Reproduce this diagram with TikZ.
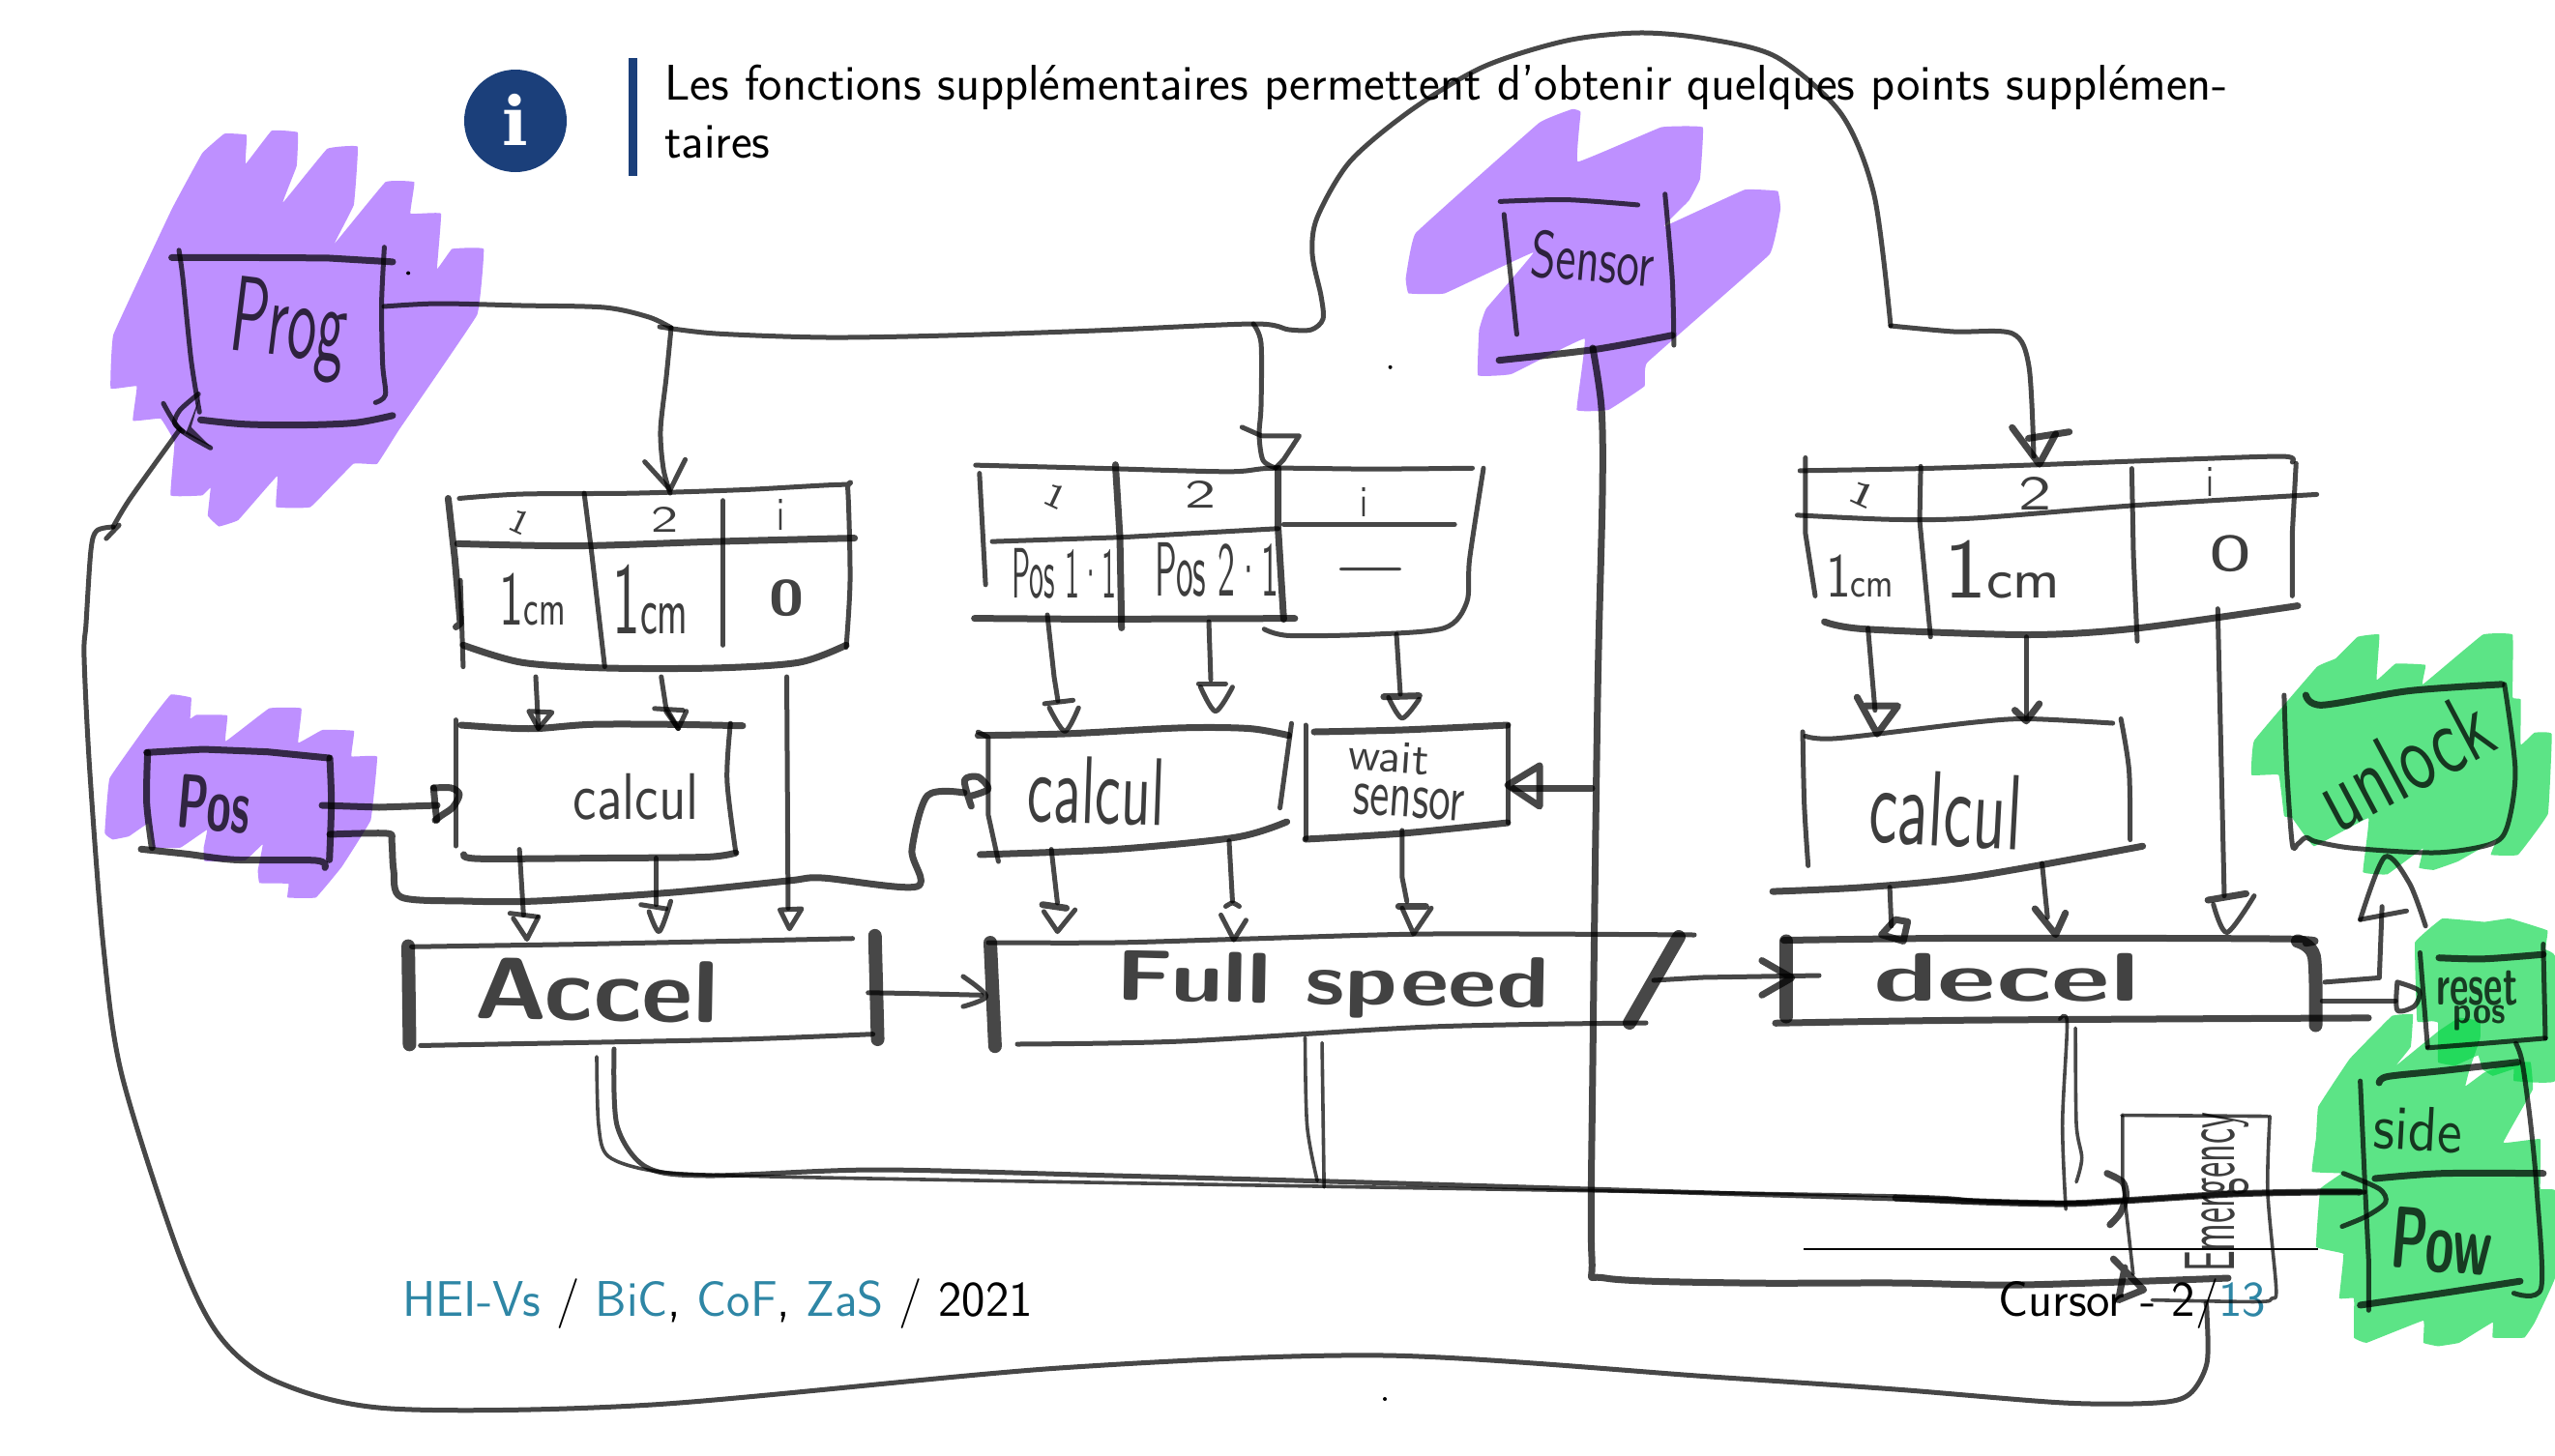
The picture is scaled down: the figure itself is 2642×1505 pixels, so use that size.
\documentclass[tikz,border=0pt]{standalone}
\usepackage{fontspec}
\newfontfamily\iconf{DejaVu Serif}
\definecolor{slideblue}{RGB}{27,63,122}
\definecolor{linkblue}{RGB}{46,134,165}
\definecolor{markpurple}{RGB}{190,144,255}
\definecolor{markgreen}{RGB}{5,214,70}
\tikzset{
  inkA/.style={draw=black,draw opacity=.72,line cap=round,line join=round,line width=5pt},
  inkB/.style={inkA,line width=3.6pt},
  inkC/.style={inkA,line width=7pt},
  inkD/.style={inkA,line width=14pt},
  hand/.style={inner sep=0pt,text=black,text opacity=.76,font=\sffamily},
  handb/.style={inner sep=0pt,text=black,text opacity=.74,font=\sffamily\bfseries},
  slidetxt/.style={inner sep=0pt,anchor=base west,font=\sffamily\fontsize{51.8}{60}\selectfont},
  foottxt/.style={inner sep=0pt,anchor=base west,font=\sffamily\fontsize{51.8}{60}\selectfont},
  zA/.style={shift={(80,20)},x=.574pt,y=-.4464pt},
  zB/.style={shift={(960,20)},x=.574pt,y=-.4464pt},
  zC/.style={shift={(1760,440)},x=.5625pt,y=-.4464pt},
  zD/.style={shift={(1960,950)},x=.43495pt,y=-.35395pt},
  zE/.style={shift={(380,700)},x=.70153pt,y=-.35714pt},
  zF/.style={shift={(60,680)},x=.33333pt,y=-.33333pt},
}
\newcommand{\sk}[2]{\draw[#1] plot[smooth,tension=.5] coordinates {#2};}
\newcommand{\pl}[2]{\draw[#1] plot coordinates {#2};}
\newcommand{\hw}[3]{\resizebox*{#1pt}{#2pt}{#3}}
\newcommand{\onecm}{1{\fontsize{6.5}{6.5}\selectfont cm}}
\begin{document}
\begin{tikzpicture}[x=1pt,y=-1pt]
\useasboundingbox (0,0) rectangle (2642,1505);
\fill[white] (0,0) rectangle (2642,1505);
% slide
\fill[slideblue] (533,125) circle (53);
\node[inner sep=0,text=white] (iconI) at (533,124) {\iconf\bfseries\fontsize{70}{70}\selectfont i};
\fill[slideblue] (650,60) rectangle (659,182);
\node[slidetxt] (note1) at (687,103) {Les fonctions supplémentaires permettent d’obtenir quelques points supplémen-};
\node[slidetxt] (note2) at (687,163) {taires};
\node[foottxt] (footL) at (416,1361) {\textcolor{linkblue}{HEI-Vs} / \textcolor{linkblue}{BiC}, \textcolor{linkblue}{CoF}, \textcolor{linkblue}{ZaS} / 2021};
\node[foottxt] (footR) at (2066,1361) {Cursor - 2/\textcolor{linkblue}{13}};
\draw[black,line width=2pt] (1865,1292) -- (2397,1292);
% marker blobs
\begin{scope}[zA]
\fill[markpurple] plot[smooth cycle,tension=.12] coordinates {(265,265)(305,268)(303,335)(350,258)(397,262)(395,340)(370,425)(450,300)(505,295)(498,430)(463,520)(555,377)(607,377)(600,450)(655,450)(648,578)(675,532)(732,532)(720,685)(580,950)(540,1030)(497,1030)(420,1130)(358,1130)(360,1058)(290,1160)(255,1175)(235,1150)(240,1085)(225,1103)(168,1103)(175,980)(150,925)(100,930)(107,850)(60,855)(65,730)(170,440)(225,310)};
\fill[black] (596,588) circle (2pt);
\end{scope}
\begin{scope}[zF]
\fill[markpurple] plot[smooth cycle,tension=.12] coordinates {(350,115)(413,125)(410,190)(430,178)(525,180)(520,260)(655,158)(755,158)(745,265)(820,225)(918,228)(910,307)(990,308)(970,505)(880,650)(800,745)(712,745)(715,702)(625,700)(620,660)(635,580)(580,630)(455,632)(452,590)(462,535)(380,590)(295,590)(280,515)(220,555)(170,565)(145,545)(160,375)(290,190)};
\end{scope}
\begin{scope}[zB]
\fill[markpurple] plot[smooth cycle,tension=.12] coordinates {(1160,208)(1175,215)(1170,330)(1320,250)(1395,250)(1390,370)(1370,420)(1325,480)(1470,395)(1530,398)(1535,440)(1515,545)(1295,795)(1290,850)(1225,905)(1168,905)(1182,740)(1050,822)(990,825)(992,720)(1005,670)(1090,540)(930,635)(865,635)(860,600)(878,495)(1100,240)};
\fill[black] (832,806) circle (2pt);
\end{scope}
\fill[black] (1432,1447) circle (2pt);
\begin{scope}[zC]
\fill[markgreen,fill opacity=.65] plot[smooth cycle,tension=.12] coordinates {(1205,490)(1245,485)(1240,590)(1275,552)(1330,555)(1325,600)(1435,485)(1490,485)(1490,630)(1505,635)(1505,740)(1530,712)(1562,715)(1555,900)(1500,995)(1450,995)(1460,960)(1390,1010)(1345,1030)(1318,1025)(1325,980)(1260,1040)(1215,1035)(1225,910)(1125,975)(1085,910)(1070,905)(1060,810)(1010,810)(1015,730)(1130,560)(1165,540)};
\end{scope}
\begin{scope}[zD]
\fill[markgreen,fill opacity=.65] plot[smooth cycle,tension=.1] coordinates {(1240,300)(1235,70)(1300,0)(1400,10)(1460,0)(1550,35)(1545,90)(1568,110)(1568,475)(1470,475)(1470,440)(1420,460)(1395,440)(1385,400)(1330,430)(1290,420)(1290,305)(1275,300)};
\fill[markgreen,fill opacity=.65] plot[smooth cycle,tension=.1] coordinates {(1005,550)(1080,410)(1180,285)(1230,280)(1225,375)(1190,430)(1290,330)(1340,290)(1390,300)(1390,350)(1365,440)(1355,490)(1400,450)(1470,420)(1510,420)(1515,500)(1445,655)(1533,645)(1533,790)(1568,795)(1568,1050)(1520,1180)(1495,1225)(1420,1225)(1420,1180)(1340,1240)(1290,1250)(1255,1240)(1255,1175)(1120,1240)(1090,1225)(1090,1110)(1055,1110)(1065,980)(1000,960)(1010,790)(1060,745)(990,740)(1000,640)};
\end{scope}
% named connector ends
\coordinate (progOut) at (397,317);
\coordinate (busJ) at (694,339);
\coordinate (tOneIn) at (693,510);
\coordinate (tTwoIn) at (1319,484);
\coordinate (tThreeIn) at (2103,472);
\coordinate (sensorOut) at (1647,360);
\coordinate (waitIn) at (1565,815);
\coordinate (waitTap) at (1646,815);
\coordinate (emOut) at (2281,1348);
\coordinate (progIn) at (186,444);
\coordinate (posOutA) at (333,833);
\coordinate (calcOneIn) at (452,833);
\coordinate (posOutB) at (341,863);
\coordinate (calcTwoIn) at (997,820);
\coordinate (accelOutA) at (617,1093);
\coordinate (accelOutB) at (635,1085);
\coordinate (powIn) at (2445,1233);
\coordinate (emIn) at (2195,1242);
\coordinate (emInB) at (2304,1322);
\coordinate (fullOut) at (1710,1014);
\coordinate (decelIn) at (1881,1009);
% long connectors
\sk{inkA}{(progOut)(453,314)(539,316)(625,318)(671,328)(busJ)}
\sk{inkA}{(682,338)(740,345)(855,349)(980,347)(1132,342)(1296,335)(1333,341)(1356,341)(1368,330)(1366,306)(1357,263)(1362,225)(1396,167)(1459,114)(1534,69)(1620,42)(1695,34)(1764,40)(1837,59)(1904,118)(1938,202)(1955,337)}
\sk{inkA}{(1955,337)(2020,343)(2081,345)(2098,379)(tThreeIn)}
\sk{inkA}{(busJ)(689,390)(683,445)(686,485)(tOneIn)}
\sk{inkA}{(1296,335)(1304,355)(1304,420)(1302,450)(1306,476)(tTwoIn)}
\sk{inkC}{(sensorOut)(1656,422)(1657,511)(1652,720)(1647,1100)(1646,1300)(1660,1322)(1800,1327)(1960,1327)(2090,1329)(emInB)}
\pl{inkC}{(waitTap)(waitIn)}
\sk{inkA}{(emOut)(2282,1357)(2282,1410)(2264,1442)(2230,1451)(2134,1451)(1960,1437)(1769,1424)(1432,1402)(1095,1415)(674,1453)(404,1457)(286,1429)(227,1382)(185,1297)(126,1112)(107,980)(93,800)(87,680)(89,645)(94,569)(100,549)(117,545)}
\sk{inkA}{(117,545)(135,515)(progIn)}
\sk{inkC}{(posOutB)(400,862)(405,870)(407,900)(415,928)(480,932)(555,932)(696,923)(815,911)(850,908)(948,917)(943,879)(959,823)(calcTwoIn)}
\pl{inkC}{(posOutA)(392,835)(calcOneIn)}
\sk{inkB}{(accelOutA)(619,1164)(629,1196)(675,1211)(759,1216)(1011,1221)(1480,1229)(1960,1237)(2047,1242)(2134,1244)(emIn)}
\sk{inkA}{(accelOutB)(638,1164)(668,1207)(731,1216)(906,1210)(1152,1216)(1480,1225)(1960,1240)(2047,1243)(2134,1245)(emIn)(2308,1235)(2395,1233)(powIn)}
\sk{inkC}{(1960,1239)(2047,1243)(2134,1245)(2195,1242)(2308,1235)(2395,1233)(2440,1233)}
\pl{inkA}{(fullOut)(1760,1011)(decelIn)}
% zoom A : Prog, table 1
\begin{scope}[zA]
\pl{inkC}{(170,552)(300,552)(450,553)(568,562)}
\sk{inkA}{(183,535)(190,600)(205,790)(220,910)}
\sk{inkA}{(553,528)(548,660)(550,800)(555,870)(537,888)}
\sk{inkC}{(222,928)(300,938)(400,940)(500,935)(568,918)}
\node[hand,rotate=-7] (tProg) at (380,720) {\hw{120}{100}{Prog}};
\sk{inkA}{(52,1203)(75,1172)}
\sk{inkA}{(155,890)(185,950)(240,993)}
\sk{inkA}{(218,868)(185,905)(175,935)(190,955)}
\fill[black,opacity=.7] (222,870)--(205,945)--(240,990)--(195,960)--cycle;
\pl{inkA}{(1022,1025)(1068,1090)(1095,1020)}
\sk{inkA}{(688,1110)(800,1100)(1000,1098)(1200,1090)(1380,1078)(1388,1090)(1392,1300)(1385,1455)}
\pl{inkC}{(668,1110)(680,1250)(690,1400)(682,1408)}
\pl{inkA}{(690,1300)(695,1500)}
\sk{inkC}{(685,1215)(900,1220)(1150,1210)(1400,1202)}
\pl{inkA}{(913,1098)(925,1220)(950,1500)}
\pl{inkA}{(1163,1115)(1163,1450)}
\sk{inkC}{(695,1450)(800,1490)(950,1503)(1150,1503)(1300,1490)(1385,1450)}
\node[hand,rotate=-25] (oneAh) at (797,1165) {\hw{20}{24}{1}};
\node[hand] (oneBh) at (1058,1160) {\hw{28}{26}{2}};
\node[hand] (oneCh) at (1268,1147) {\hw{8}{32}{i}};
\node[hand] (oneA) at (820,1345) {\hw{68}{54}{\onecm}};
\node[hand] (oneB) at (1032,1345) {\hw{78}{72}{\onecm}};
\node[handb] (oneC) at (1278,1340) {\hw{36}{38}{0}};
\end{scope}
% zoom F : Pos
\begin{scope}[zF]
\pl{inkC}{(275,295)(450,285)(650,293)(840,312)}
\sk{inkC}{(278,295)(275,450)(292,590)}
\sk{inkC}{(843,312)(848,450)(842,628)}
\sk{inkC}{(258,595)(400,610)(550,628)(800,630)(828,652)}
\node[handb,rotate=-5] (tPos) at (485,455) {\hw{75}{56}{Pos}};
\pl{inkC}{(1165,405)(1170,460)(1175,505)}
\sk{inkC}{(1165,405)(1220,405)(1245,425)(1225,465)(1190,490)(1170,505)}
\end{scope}
% zoom B : Sensor, table 2
\begin{scope}[zB]
\sk{inkA}{(1030,422)(1150,418)(1278,430)}
\pl{inkA}{(1037,452)(1060,730)}
\sk{inkA}{(1327,405)(1340,600)(1343,755)}
\sk{inkC}{(1028,790)(1200,765)(1340,732)}
\node[hand,rotate=-5] (tSensor) at (1197,555) {\hw{128}{50}{Sensor}};
\pl{inkA}{(565,945)(600,965)(668,965)(640,1020)(625,1040)}
\sk{inkA}{(85,1033)(300,1040)(540,1048)(620,1040)(800,1042)(980,1040)}
\pl{inkA}{(92,1052)(103,1310)}
\pl{inkC}{(337,1032)(345,1200)(348,1410)}
\pl{inkC}{(630,1040)(630,1180)(640,1390)}
\sk{inkA}{(1000,1040)(975,1250)(970,1350)(930,1410)(800,1425)(650,1428)(605,1413)}
\pl{inkA}{(115,1210)(350,1200)(630,1180)}
\pl{inkA}{(640,1170)(948,1170)}
\pl{inkC}{(83,1388)(300,1390)(660,1388)}
\node[hand,rotate=-25] (twoAh) at (230,1105) {\hw{22}{24}{1}};
\node[hand] (twoBh) at (490,1100) {\hw{32}{28}{2}};
\node[hand] (twoCh) at (785,1120) {\hw{8}{30}{i}};
\node[hand] (twoA) at (245,1285) {\hw{108}{52}{Pos 1·1}};
\node[hand] (twoB) at (520,1275) {\hw{128}{56}{Pos 2·1}};
\node[handb] (twoC) at (797,1288) {\hw{64}{14}{—}};
\end{scope}
% global : table 2 outputs, wait sensor, Full speed
\coordinate (tTwoA) at (1083,636);
\coordinate (tTwoB) at (1250,643);
\coordinate (tTwoC) at (1444,656);
\pl{inkA}{(tTwoA)(1090,700)(1094,725)}
\pl{inkA}{(tTwoB)(1252,703)}
\pl{inkA}{(tTwoC)(1448,718)}
\pl{inkA}{(1350,750)(1350,868)}
\sk{inkC}{(1359,757)(1450,755)(1559,750)}
\pl{inkA}{(1559,750)(1559,851)}
\sk{inkC}{(1350,868)(1450,862)(1559,851)}
\node[hand,rotate=-4] (tWait) at (1436,783) {\hw{84}{32}{wait}};
\node[hand,rotate=-4] (tSensorB) at (1457,830) {\hw{115}{32}{sensor}};
\pl{inkC}{(1592,792)(1559,812)(1592,834)(1592,792)}
\sk{inkA}{(1022,975)(1152,975)(1292,971)(1480,966)(1752,967)}
\pl{inkD}{(1736,969)(1685,1058)}
\sk{inkA}{(1052,1080)(1222,1077)(1480,1062)(1702,1058)}
\node[handb,rotate=-1] (tFull) at (1378,1020) {\hw{448}{66}{Full speed}};
% zoom E : calcul 1, Accel, calcul 2
\begin{scope}[zE]
\pl{inkA}{(248,0)(252,150)}
\pl{inkA}{(238,100)(252,150)(272,103)(238,100)}
\pl{inkA}{(433,0)(440,90)(458,150)}
\pl{inkA}{(423,92)(465,97)}
\pl{inkA}{(440,100)(458,150)(470,100)}
\pl{inkA}{(618,0)(620,670)}
\pl{inkA}{(608,675)(622,730)(640,672)(608,675)}
\pl{inkA}{(130,125)(130,490)}
\sk{inkC}{(138,140)(200,148)(250,150)(330,138)(450,138)(553,142)}
\sk{inkA}{(535,135)(530,300)(543,510)}
\sk{inkC}{(142,515)(165,527)(350,525)(500,522)(543,510)}
\node[hand] (tCalcA) at (396,348) {\hw{130}{48}{calcul}};
\pl{inkA}{(224,500)(230,690)}
\pl{inkA}{(210,685)(250,695)}
\pl{inkA}{(215,700)(235,760)(252,695)}
\pl{inkA}{(425,525)(425,660)}
\pl{inkA}{(403,660)(440,672)}
\sk{inkA}{(415,680)(430,738)(447,650)}
\sk{inkC}{(890,375)(880,300)(900,290)(915,325)(890,345)}
\pl{inkA}{(65,782)(300,775)(550,765)(715,758)}
\pl{inkD}{(60,780)(62,1065)}
\pl{inkD}{(748,750)(752,1050)}
\sk{inkA}{(78,1068)(300,1060)(550,1050)(745,1035)}
\node[handb,rotate=-1] (tAccel) at (338,908) {\hw{252}{64}{Accel}};
\coordinate (accelOut) at (738,915);
\coordinate (fullIn) at (905,922);
\pl{inkA}{(accelOut)(800,917)(fullIn)}
\sk{inkA}{(878,868)(912,925)(878,955)}
\pl{inkD}{(918,770)(925,1070)}
\sk{inkB}{(1382,1045)(1385,1300)(1400,1460)}
\sk{inkB}{(1407,1060)(1410,1478)}
\pl{inkA}{(900,160)(915,175)(915,400)(930,535)}
\sk{inkC}{(900,170)(1030,165)(1200,148)(1300,150)(1358,170)}
\pl{inkA}{(1362,135)(1345,380)}
\sk{inkC}{(903,515)(1100,500)(1280,465)(1355,420)}
\node[hand,rotate=-2] (tCalcB) at (1075,330) {\hw{142}{70}{calcul}};
\pl{inkA}{(1008,500)(1017,655)}
\pl{inkC}{(995,660)(1030,670)}
\pl{inkA}{(997,680)(1017,738)(1043,675)}
\pl{inkA}{(1270,475)(1275,650)}
\sk{inkA}{(1265,665)(1275,655)(1285,665)}
\pl{inkA}{(1258,690)(1277,762)(1295,705)}
\pl{inkA}{(1525,445)(1525,580)(1532,650)}
\pl{inkC}{(1520,665)(1560,665)}
\pl{inkA}{(1525,670)(1542,745)(1568,670)}
\pl{inkA}{(998,78)(1040,68)}
\sk{inkA}{(1005,90)(1028,158)(1048,90)}
\pl{inkA}{(1225,20)(1265,20)}
\sk{inkA}{(1228,30)(1250,100)(1275,30)}
\pl{inkC}{(1498,58)(1550,55)}
\sk{inkA}{(1505,60)(1525,120)(1550,65)}
\end{scope}
% zoom C : table 3, calcul 3, decel, unlock
\begin{scope}[zC]
\pl{inkC}{(570,5)(620,90)(650,20)}
\pl{inkC}{(600,30)(675,15)}
\sk{inkA}{(180,105)(400,100)(600,92)(900,78)(1070,72)(1085,85)}
\pl{inkA}{(190,75)(190,250)(208,395)}
\pl{inkA}{(402,95)(400,220)(420,490)}
\pl{inkA}{(790,100)(793,300)(800,500)}
\pl{inkA}{(1092,88)(1085,250)(1085,395)}
\sk{inkA}{(175,208)(350,218)(500,215)(800,185)(1130,160)}
\sk{inkC}{(225,455)(300,472)(600,485)(800,470)(1095,418)}
\node[hand,rotate=-25] (thrAh) at (295,160) {\hw{28}{24}{1}};
\node[hand] (thrBh) at (612,157) {\hw{34}{34}{2}};
\node[hand] (thrCh) at (935,130) {\hw{8}{30}{i}};
\node[hand] (thrA) at (290,350) {\hw{70}{44}{\onecm}};
\node[hand] (thrB) at (552,335) {\hw{120}{60}{\onecm}};
\node[hand] (thrC) at (972,298) {\hw{44}{38}{0}};
\pl{inkA}{(305,470)(318,660)}
\pl{inkC}{(285,630)(322,715)(360,650)(300,650)}
\pl{inkA}{(596,490)(596,680)}
\pl{inkC}{(575,660)(596,685)(620,645)}
\pl{inkA}{(948,425)(960,1090)}
\pl{inkC}{(930,1100)(1000,1085)}
\sk{inkA}{(940,1110)(965,1175)(1015,1090)}
\sk{inkA}{(185,710)(188,880)(195,1020)}
\sk{inkA}{(190,720)(250,725)(500,688)(600,680)(755,690)}
\sk{inkA}{(770,680)(785,800)(787,960)}
\sk{inkC}{(130,1080)(300,1070)(500,1045)(810,975)}
\node[hand,rotate=-3] (tCalcC) at (448,890) {\hw{158}{78}{calcul}};
\pl{inkA}{(345,1070)(348,1160)}
\pl{inkC}{(330,1180)(355,1145)(378,1150)(370,1195)(330,1180)}
\pl{inkA}{(625,1015)(635,1140)}
\pl{inkC}{(612,1120)(650,1180)(668,1130)}
\sk{inkC}{(150,1193)(500,1188)(1080,1190)(1110,1200)}
\pl{inkD}{(155,1195)(155,1370)}
\sk{inkD}{(1095,1195)(1125,1230)(1128,1390)}
\sk{inkC}{(135,1385)(500,1378)(1225,1373)}
\node[handb] (tDecel) at (560,1280) {\hw{275}{50}{decel}};
\pl{inkC}{(110,1240)(165,1280)(110,1320)}
\coordinate (decelOutA) at (1145,1290);
\coordinate (unlockIn) at (1255,1000);
\coordinate (decelOutB) at (1140,1333);
\coordinate (resetIn) at (1275,1333);
\pl{inkA}{(decelOutA)(1245,1280)(1250,1115)}
\sk{inkA}{(1210,1145)(unlockIn)(1300,1060)(1330,1160)}
\pl{inkA}{(1210,1145)(1295,1125)}
\pl{inkA}{(decelOutB)(resetIn)}
\sk{inkA}{(1278,1290)(1278,1355)(1310,1345)(1318,1310)(1278,1290)}
\sk{inkA}{(1070,625)(1075,800)(1085,970)(1095,970)(1110,955)(1130,965)(1200,980)(1350,990)(1450,970)(1480,930)(1495,800)(1475,600)}
\sk{inkC}{(1110,625)(1140,648)(1300,615)(1470,600)}
\node[hand,rotate=28] (tUnlock) at (1290,780) {\hw{190}{70}{unlock}};
\end{scope}
% zoom D : decel outs, Emergency, reset pos, side/Pow
\begin{scope}[zD]
\sk{inkB}{(390,295)(408,305)(397,600)(405,850)}
\sk{inkB}{(428,320)(430,600)(443,700)(430,770)}
\pl{inkB}{(540,578)(540,760)(565,1040)}
\pl{inkB}{(538,575)(885,578)}
\sk{inkB}{(890,578)(885,800)(905,1080)(895,1110)(860,1120)(610,1115)}
\node[hand,rotate=90] (tEmergency) at (765,800) {\hw{165}{66}{Emergency}};
\sk{inkC}{(503,745)(540,770)(548,810)(535,860)(510,895)}
\pl{inkC}{(518,995)(590,1085)(530,1115)(545,1020)}
\sk{inkA}{(1065,745)(1150,790)(1165,830)(1120,870)(1062,900)}
\pl{inkA}{(1247,100)(1265,375)}
\sk{inkC}{(1292,115)(1400,118)(1540,105)}
\pl{inkA}{(1540,75)(1545,350)}
\sk{inkA}{(1265,378)(1400,365)(1545,350)}
\node[handb] (tReset) at (1383,205) {\hw{84}{36}{reset}};
\node[handb] (tResetPos) at (1388,290) {\hw{54}{26}{pos}};
\pl{inkA}{(1105,475)(1115,750)(1125,1000)(1125,1145)}
\sk{inkC}{(1150,480)(1170,462)(1300,445)(1480,420)}
\sk{inkA}{(1475,365)(1490,420)(1510,600)(1525,800)(1535,1080)(1470,1095)}
\sk{inkC}{(1140,760)(1300,745)(1540,745)}
\sk{inkC}{(1105,1130)(1300,1095)(1485,1060)}
\node[hand,rotate=-3] (tSide) at (1243,615) {\hw{92}{46}{side}};
\node[handb,rotate=-5] (tPow) at (1300,945) {\hw{104}{64}{Pow}};
\end{scope}
\end{tikzpicture}
\end{document}
